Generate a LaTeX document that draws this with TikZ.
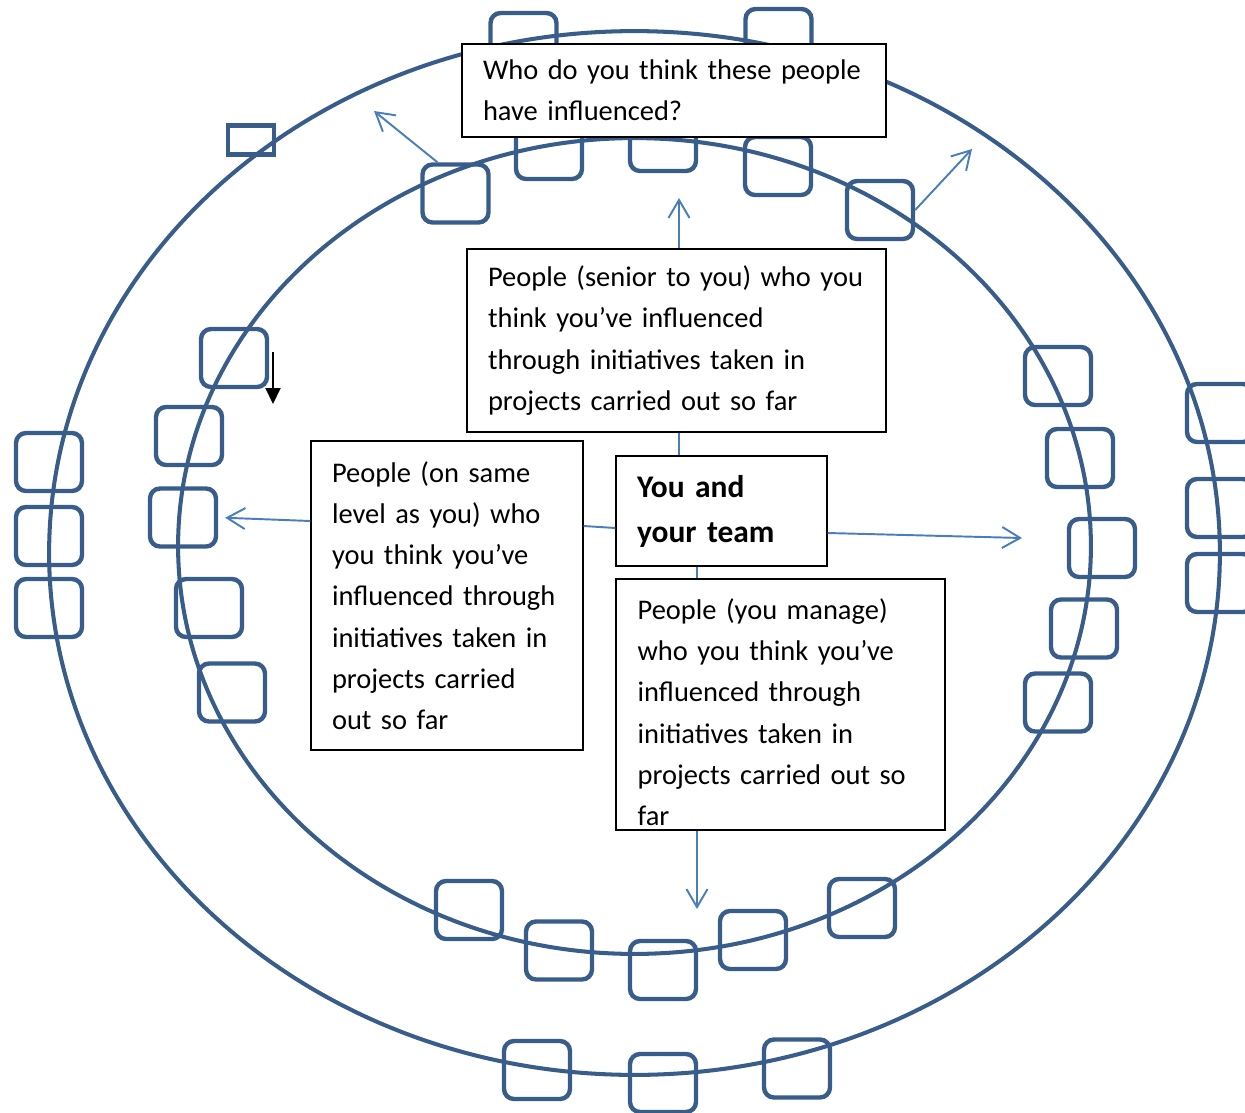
\documentclass[tikz,border=0pt]{standalone}
\usepackage{fontspec}
\setmainfont{Carlito}
\usepackage{tikz}
\usetikzlibrary{arrows.meta}
\definecolor{ringblue}{RGB}{56,93,138}
\definecolor{lineblue}{RGB}{74,126,187}

\begin{document}
\begin{tikzpicture}[x=0.02cm, y=-0.02cm]
    \tikzstyle{ring} = [draw=ringblue, line width=2.3pt]
    \tikzstyle{seat} = [draw=ringblue, line width=2.5pt, rounded corners=0.2cm, minimum width=1.32cm, minimum height=1.16cm, inner sep=0pt]
    \tikzstyle{txt} = [font=\fontsize{16.2}{23.45}\selectfont]
    \tikzstyle{txtbox} = [txt, draw=black, fill=white, line width=0.7pt, align=left, inner xsep=0.42cm, inner ysep=0pt]
    \tikzstyle{link} = [draw=lineblue, line width=1.1pt]
    \tikzstyle{arr} = [link, -{Straight Barb[length=0.36cm, width=0.42cm]}]

    \useasboundingbox (0,0) rectangle (1245,1113);
    \clip (0,0) rectangle (1245,1113);

    % the two rings
    \draw[ring] (634.5,553) ellipse [x radius=11.71cm, y radius=10.44cm];
    \draw[ring] (634.5,546) ellipse [x radius=9.13cm, y radius=8.16cm];

    % people on the inner ring
    \foreach \n/\x/\y in {it1/455.5/193.5, it2/549/150, it3/663/142, it4/778/166, it5/880/210,
        il1/234/358, il2/189/436, il3/183/517.5, il4/209/608, il5/232/692.5,
        ir1/1058/376, ir2/1080/458, ir3/1102/548, ir4/1084/628.5, ir5/1058/702.5,
        ib1/469/910, ib2/559/950.5, ib3/663/970, ib4/753/940, ib5/862/908}
    \node[seat] (\n) at (\x,\y) {};

    % people on the outer ring
    \foreach \n/\x/\y in {ot1/523.5/42, ot2/778.5/38, ol1/49/462, ol2/49/536, ol3/49/608,
        or1/1220/413, or2/1220/508, or3/1220/583, ob1/537/1070, ob2/663/1083, ob3/797/1068.5}
    \node[seat] (\n) at (\x,\y) {};
    \node[seat, sharp corners, minimum width=0.92cm, minimum height=0.58cm] (otiny) at (251,140) {};

    % text boxes
    \node[txtbox, text width=7.64cm, minimum height=1.86cm] (ask) at (674,90.5)
        {Who do you think these people\\have influenced?};
    \node[txtbox, text width=7.54cm, minimum height=3.66cm] (senior) at (676.5,340.5)
        {People (senior to you) who you\\think you’ve influenced\\through initiatives taken in\\projects carried out so far};
    \node[txtbox, text width=3.38cm, minimum height=2.2cm, font=\fontsize{17.9}{25.6}\selectfont\bfseries] (team) at (721.5,511)
        {You and\\your team};
    \node[txtbox, text width=4.6cm, minimum height=6.18cm] (same) at (447,595.5)
        {People (on same\\level as you) who\\you think you’ve\\influenced through\\initiatives taken in\\projects carried\\out so far};
    \node[txtbox, minimum width=6.58cm, minimum height=5.02cm,
        path picture={\node[txt, anchor=north west, align=left, text width=5.74cm, inner sep=0pt]
            at ([yshift=-0.14cm]path picture bounding box.north west)
            {People (you manage)\\who you think you’ve\\influenced through\\initiatives taken in\\projects carried out so\\far};}] (manage) at (780.5,704.5) {};

    % free ends of the arrows
    \coordinate (upTip) at (679,198);
    \coordinate (downTip) at (697,909);
    \coordinate (rightTip) at (1022,538);
    \coordinate (nwTip) at (374,111);
    \coordinate (neTip) at (972,149);
    \coordinate (dropTop) at (273,352);
    \coordinate (dropEnd) at (273,404);

    \draw[arr] (upTip |- senior.north) -- (upTip);
    \draw[link] (upTip |- senior.south) -- (upTip |- team.north);
    \draw[link] (team.west |- 0,528) -- (same.east |- 0,526);
    \draw[arr] (team.east |- 0,533) -- (rightTip);
    \draw[link] (downTip |- team.south) -- (downTip |- manage.north);
    \draw[arr] (downTip |- manage.south) -- (downTip);
    \draw[arr, shorten >=0.14cm] (same.west |- 0,521) -- (il3.east);
    \draw[arr] (it1.120) -- (nwTip);
    \draw[arr] (it5.east) -- (neTip);
    \draw[line width=1.1pt, -{Triangle[length=0.32cm, width=0.3cm]}] (dropTop) -- (dropEnd);
\end{tikzpicture}
\end{document}
